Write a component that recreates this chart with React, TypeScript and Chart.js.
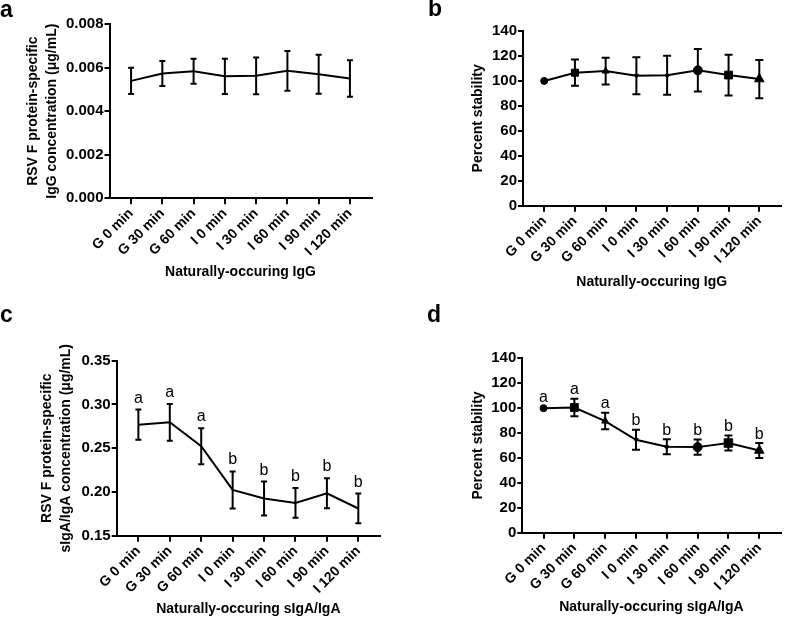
import React, { useEffect, useRef } from "react";
import { Chart, registerables } from "chart.js";

Chart.register(...registerables);

const FONT = '"Liberation Sans", Arial, Helvetica, sans-serif';

// ---------- data ----------
const timepoints = ["G 0 min", "G 30 min", "G 60 min", "I 0 min", "I 30 min", "I 60 min", "I 90 min", "I 120 min"];

const iggConcMean = [0.00539, 0.00573, 0.00583, 0.0056, 0.00562, 0.00585, 0.00569, 0.0055];
const iggConcErr = [0.0006, 0.000575, 0.000575, 0.00081, 0.000845, 0.00091, 0.000895, 0.000835];
const iggConcTicks = [0, 0.002, 0.004, 0.006, 0.008];

const iggStabMean = [100, 106.6, 107.9, 104.2, 104.5, 108.5, 104.7, 101.5];
const iggStabErr = [0, 10.5, 10.7, 14.8, 15.6, 17, 16.3, 15.3];

const igaConcMean = [0.2769, 0.2796, 0.2523, 0.2023, 0.1925, 0.1875, 0.1985, 0.1811];
const igaConcErr = [0.0172, 0.021, 0.0205, 0.0212, 0.0194, 0.017, 0.0172, 0.017];
const igaConcTicks = [0.15, 0.2, 0.25, 0.3, 0.35];

const igaStabMean = [100, 100.5, 89.6, 74.6, 69, 68.7, 72, 66];
const igaStabErr = [0, 7, 6.6, 8.1, 6.1, 6.1, 6.1, 6];

const stabTicks = [0, 20, 40, 60, 80, 100, 120, 140];
const igaLetters = ["a", "a", "a", "b", "b", "b", "b", "b"];

// marker styles (GraphPad-like cycling symbols)
const markerStyles = ["circle", "rect", "triangle", "triangle", "rectRot", "circle", "rect", "triangle"];
const markerRotations = [0, 0, 0, 180, 0, 0, 0, 0];
const markerRadiiB = [3.5, 5, 4, 2.5, 2.5, 4.5, 5.5, 5.5];
const markerRadiiD = [3.5, 5.5, 4, 2.5, 2.5, 4.5, 6, 5.5];

// ---------- plugin ----------
function makeErrorPlugin(cap: number, letters: string[] | null, gap: number) {
  return {
    id: "errorBars",
    afterDatasetsDraw(chart: any) {
      const ctx = chart.ctx;
      const xs = chart.scales.x;
      const ys = chart.scales.y;
      chart.data.datasets.forEach((ds: any) => {
        const errs: number[] = ds.errors || [];
        ctx.save();
        ctx.strokeStyle = "#000";
        ctx.lineWidth = 2;
        ds.data.forEach((pt: any, i: number) => {
          const e = errs[i] || 0;
          const x = xs.getPixelForValue(pt.x);
          const y = ys.getPixelForValue(pt.y);
          let top = y - 2;
          if (e) {
            const yt = ys.getPixelForValue(pt.y + e);
            const yb = ys.getPixelForValue(pt.y - e);
            ctx.beginPath();
            ctx.moveTo(x, yt);
            ctx.lineTo(x, yb);
            ctx.moveTo(x - cap, yt);
            ctx.lineTo(x + cap, yt);
            ctx.moveTo(x - cap, yb);
            ctx.lineTo(x + cap, yb);
            ctx.stroke();
            top = yt;
          }
          if (letters) {
            ctx.fillStyle = "#000";
            ctx.font = `16px ${FONT}`;
            ctx.textAlign = "center";
            ctx.textBaseline = "alphabetic";
            ctx.fillText(letters[i], x, top - gap);
          }
        });
        ctx.restore();
      });
    },
  };
}

type PanelSpec = {
  left: number;
  top: number;
  width: number;
  height: number;
  mean: number[];
  err: number[];
  yTicks: number[];
  decimals: number;
  yTitle: string | string[];
  xTitle: string;
  padTop: number;
  padRight: number;
  padBottom: number;
  yAxisW: number;
  xAxisH: number;
  yTitlePad: number;
  radii: number[] | null;
  cap: number;
  letters: string[] | null;
  letterGap: number;
};

function makeConfig(p: PanelSpec): any {
  return {
    type: "line",
    data: {
      datasets: [
        {
          data: p.mean.map((v, i) => ({ x: i, y: v })),
          errors: p.err,
          borderColor: "#000",
          backgroundColor: "#000",
          borderWidth: 2,
          tension: 0,
          fill: false,
          pointStyle: p.radii ? markerStyles : "circle",
          pointRotation: markerRotations,
          pointRadius: p.radii ? p.radii : 0,
          pointBackgroundColor: "#000",
          pointBorderColor: "#000",
          pointBorderWidth: 1,
        },
      ],
    },
    options: {
      responsive: false,
      animation: false,
      events: [],
      layout: { padding: { left: 0, top: p.padTop, right: p.padRight, bottom: p.padBottom } },
      plugins: { legend: { display: false }, tooltip: { enabled: false } },
      scales: {
        x: {
          type: "linear",
          min: -0.69,
          max: 7.69,
          afterBuildTicks: (s: any) => {
            s.ticks = timepoints.map((_, i) => ({ value: i }));
          },
          afterFit: (s: any) => {
            s.height = p.xAxisH;
          },
          ticks: {
            callback: (v: any) => timepoints[v],
            minRotation: 45,
            maxRotation: 45,
            autoSkip: false,
            color: "#000",
            padding: 1,
            font: { family: FONT, size: 14, weight: "bold" },
          },
          grid: { drawOnChartArea: false, drawTicks: true, tickLength: 6, color: "#000", lineWidth: 2 },
          border: { color: "#000", width: 2 },
          title: {
            display: true,
            text: p.xTitle,
            color: "#000",
            padding: 0,
            font: { family: FONT, size: 14, weight: "bold" },
          },
        },
        y: {
          type: "linear",
          min: p.yTicks[0],
          max: p.yTicks[p.yTicks.length - 1],
          afterBuildTicks: (s: any) => {
            s.ticks = p.yTicks.map((v) => ({ value: v }));
          },
          afterFit: (s: any) => {
            s.width = p.yAxisW;
          },
          ticks: {
            callback: (v: any) => Number(v).toFixed(p.decimals),
            color: "#000",
            padding: 1,
            font: { family: FONT, size: 15, weight: "bold" },
          },
          grid: { drawOnChartArea: false, drawTicks: true, tickLength: 5, color: "#000", lineWidth: 2 },
          border: { color: "#000", width: 2 },
          title: {
            display: true,
            text: p.yTitle,
            color: "#000",
            padding: { top: p.yTitlePad, bottom: 0 },
            font: { family: FONT, size: 14, weight: "bold", lineHeight: 1.36 },
          },
        },
      },
    },
    plugins: [makeErrorPlugin(p.cap, p.letters, p.letterGap)],
  };
}

function Panel({ spec }: { spec: PanelSpec }) {
  const ref = useRef<HTMLCanvasElement | null>(null);
  useEffect(() => {
    if (!ref.current) return;
    const chart = new Chart(ref.current, makeConfig(spec));
    return () => chart.destroy();
  }, [spec]);
  return (
    <canvas
      ref={ref}
      width={spec.width}
      height={spec.height}
      style={{ position: "absolute", left: spec.left, top: spec.top, width: spec.width, height: spec.height }}
    />
  );
}

const panelA: PanelSpec = {
  left: 0, top: 0, width: 393, height: 305,
  mean: iggConcMean, err: iggConcErr, yTicks: iggConcTicks, decimals: 3,
  yTitle: ["RSV F protein-specific", "IgG concentration (μg/mL)"],
  xTitle: "Naturally-occuring IgG",
  padTop: 24, padRight: 21.5, padBottom: 24.9, yAxisW: 109.5, xAxisH: 81.8, yTitlePad: 23.5,
  radii: null, cap: 3, letters: null, letterGap: 0,
};

const panelB: PanelSpec = {
  left: 393, top: 0, width: 394, height: 305,
  mean: iggStabMean, err: iggStabErr, yTicks: stabTicks, decimals: 0,
  yTitle: "Percent stability",
  xTitle: "Naturally-occuring IgG",
  padTop: 31, padRight: 2, padBottom: 14.9, yAxisW: 130, xAxisH: 84.4, yTitlePad: 75.3,
  radii: markerRadiiB, cap: 4, letters: null, letterGap: 0,
};

const panelC: PanelSpec = {
  left: 0, top: 305, width: 393, height: 314,
  mean: igaConcMean, err: igaConcErr, yTicks: igaConcTicks, decimals: 2,
  yTitle: ["RSV F protein-specific", "sIgA/IgA concentration (μg/mL)"],
  xTitle: "Naturally-occuring sIgA/IgA",
  padTop: 55.7, padRight: 13, padBottom: 1.6, yAxisW: 116.7, xAxisH: 81.7, yTitlePad: 38,
  radii: null, cap: 3, letters: igaLetters, letterGap: 7,
};

const panelD: PanelSpec = {
  left: 393, top: 305, width: 394, height: 314,
  mean: igaStabMean, err: igaStabErr, yTicks: stabTicks, decimals: 0,
  yTitle: "Percent stability",
  xTitle: "Naturally-occuring sIgA/IgA",
  padTop: 53.3, padRight: 2, padBottom: 3.6, yAxisW: 129.3, xAxisH: 82.7, yTitlePad: 75.3,
  radii: markerRadiiD, cap: 4, letters: igaLetters, letterGap: 4.5,
};

const letterStyle: React.CSSProperties = {
  position: "absolute",
  fontFamily: FONT,
  fontWeight: "bold",
  fontSize: 23,
  lineHeight: "23px",
  color: "#000",
  zIndex: 2,
};

export default function App() {
  return (
    <div style={{ position: "absolute", left: 0, top: 0, width: 787, height: 619, background: "#fff", overflow: "hidden" }}>
      <Panel spec={panelA} />
      <Panel spec={panelB} />
      <Panel spec={panelC} />
      <Panel spec={panelD} />
      <div style={{ ...letterStyle, left: 0, top: -2 }}>a</div>
      <div style={{ ...letterStyle, left: 428, top: -3 }}>b</div>
      <div style={{ ...letterStyle, left: 0, top: 303 }}>c</div>
      <div style={{ ...letterStyle, left: 427, top: 303 }}>d</div>
    </div>
  );
}
